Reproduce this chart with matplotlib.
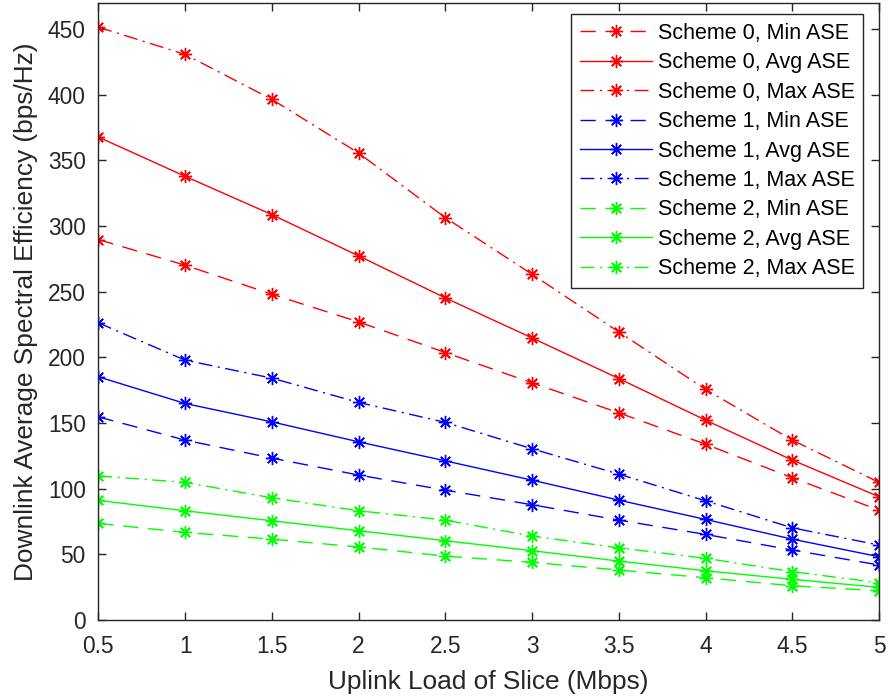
import matplotlib
matplotlib.use("Agg")
import matplotlib.pyplot as plt

plt.rcParams['font.family'] = ['Liberation Sans', 'DejaVu Sans']

load_mbps = [0.5, 1.0, 1.5, 2.0, 2.5, 3.0, 3.5, 4.0, 4.5, 5.0]

s0_min = [289.7, 270.2, 248.1, 227.0, 203.7, 180.6, 157.8, 133.9, 108.3, 83.7]
s0_avg = [367.8, 337.9, 308.7, 277.3, 245.3, 214.8, 183.9, 152.2, 121.8, 93.9]
s0_max = [451.5, 430.7, 396.5, 355.6, 306.4, 263.3, 219.4, 175.6, 137.0, 104.8]

s1_min = [154.7, 137.0, 123.3, 110.4, 98.9, 87.8, 76.1, 65.2, 53.3, 41.9]
s1_avg = [185.2, 164.9, 150.9, 135.7, 121.2, 106.5, 91.3, 76.6, 61.6, 48.2]
s1_max = [226.3, 197.9, 184.2, 165.7, 150.5, 130.4, 111.1, 90.8, 70.2, 57.1]

s2_min = [73.6, 66.7, 61.6, 55.6, 48.7, 43.9, 38.1, 32.2, 26.1, 22.3]
s2_avg = [91.1, 83.2, 75.6, 68.0, 60.4, 52.8, 44.9, 37.5, 31.0, 24.9]
s2_max = [109.8, 104.8, 93.1, 83.2, 76.1, 63.9, 55.0, 47.0, 36.8, 28.4]

x_ticks = [0.5, 1, 1.5, 2, 2.5, 3, 3.5, 4, 4.5, 5]
x_tick_labels = ['0.5', '1', '1.5', '2', '2.5', '3', '3.5', '4', '4.5', '5']
y_ticks = [0, 50, 100, 150, 200, 250, 300, 350, 400, 450]

series = [
    ('Scheme 0, Min ASE', s0_min, '#ff0000', 'min'),
    ('Scheme 0, Avg ASE', s0_avg, '#ff0000', 'avg'),
    ('Scheme 0, Max ASE', s0_max, '#ff0000', 'max'),
    ('Scheme 1, Min ASE', s1_min, '#0000ff', 'min'),
    ('Scheme 1, Avg ASE', s1_avg, '#0000ff', 'avg'),
    ('Scheme 1, Max ASE', s1_max, '#0000ff', 'max'),
    ('Scheme 2, Min ASE', s2_min, '#00ff00', 'min'),
    ('Scheme 2, Avg ASE', s2_avg, '#00ff00', 'avg'),
    ('Scheme 2, Max ASE', s2_max, '#00ff00', 'max'),
]

line_styles = {
    'min': (0, (11, 7)),
    'avg': '-',
    'max': (0, (10, 4, 1.5, 4)),
}

fig = plt.figure(figsize=(8.89, 6.98), dpi=100)
ax = fig.add_axes([0.1106, 0.1117, 0.8782, 0.8843])

asterisk = (8, 2, 0)
for label, vals, color, kind in series:
    ax.plot(load_mbps, vals, color=color, linestyle=line_styles[kind],
            linewidth=1.0, marker=asterisk, markersize=9.5,
            markeredgewidth=1.0, label=label)

ax.set_xlim(0.5, 5)
ax.set_ylim(0, 470)
ax.set_xticks(x_ticks)
ax.set_xticklabels(x_tick_labels)
ax.set_yticks(y_ticks)

axis_gray = '#262626'
for side in ax.spines.values():
    side.set_color(axis_gray)
    side.set_linewidth(1.0)
ax.tick_params(direction='in', length=6, width=1.0, colors=axis_gray,
               labelsize=16.4, top=True, right=True, pad=9)
ax.tick_params(axis='x', pad=11)

ax.set_xlabel('Uplink Load of Slice (Mbps)', fontsize=18.9, color=axis_gray,
              labelpad=8.5)
ax.set_ylabel('Downlink Average Spectral Efficiency (bps/Hz)', fontsize=18.9,
              color=axis_gray, labelpad=7.5)

leg = ax.legend(loc='upper right', bbox_to_anchor=(0.9799, 0.9812),
                borderaxespad=0, fontsize=15.5, handlelength=3.33,
                fancybox=False, framealpha=1, edgecolor=axis_gray,
                labelspacing=0.39, borderpad=0.4, handletextpad=0.28)
leg.get_frame().set_linewidth(1.0)

fig.savefig('out.png', dpi=100)
